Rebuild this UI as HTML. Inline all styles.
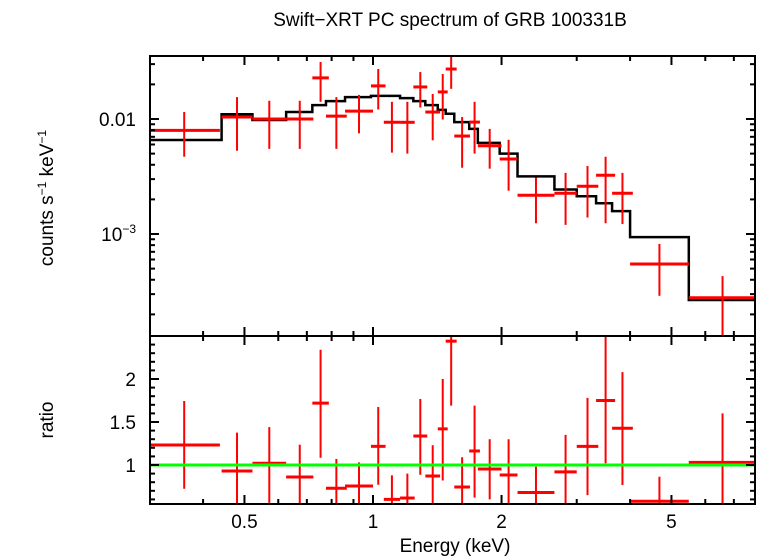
<!DOCTYPE html>
<html><head><meta charset="utf-8"><style>
html,body{margin:0;padding:0;background:#fff;}
svg{display:block;font-family:"Liberation Sans",sans-serif;}
</style></head><body>
<svg id="chart" width="758" height="556" viewBox="0 0 758 556" xmlns="http://www.w3.org/2000/svg">
<defs>
<clipPath id="ctop"><rect x="150" y="56" width="605" height="280"/></clipPath>
<clipPath id="cbot"><rect x="150" y="336" width="605" height="168"/></clipPath>
</defs>
<rect width="758" height="556" fill="#fff"/>
<text x="450" y="26" font-size="19" text-anchor="middle">Swift−XRT PC spectrum of GRB 100331B</text>
<g id="topMarks" clip-path="url(#ctop)"></g>
<g id="botMarks" clip-path="url(#cbot)"></g>
<g id="axes"></g>
<text transform="translate(53,198) rotate(-90)" font-size="19" text-anchor="middle">counts s<tspan font-size="12" dy="-7">−1</tspan><tspan dy="7"> keV</tspan><tspan font-size="12" dy="-7">−1</tspan></text>
<text transform="translate(53,420) rotate(-90)" font-size="19" text-anchor="middle">ratio</text>
<text x="455" y="552" font-size="19" text-anchor="middle">Energy (keV)</text>
</svg>
<script>
const eLo=[0.298,0.442,0.522,0.626,0.721,0.776,0.86,0.989,1.06,1.157,1.243,1.326,1.418,1.48,1.55,1.68,1.76,1.98,2.18,2.66,3.0,3.33,3.63,4.0,5.49];
const eHi=[0.438,0.522,0.626,0.725,0.788,0.868,1.0,1.07,1.157,1.252,1.34,1.436,1.496,1.57,1.687,1.78,2.0,2.18,2.66,3.0,3.37,3.69,4.06,5.49,7.9];
const rate=[0.00797,0.0104,0.0100,0.0100,0.0228,0.0106,0.0117,0.0194,0.00936,0.00936,0.019,0.0115,0.0172,0.0272,0.00711,0.0094,0.00586,0.00449,0.00217,0.00226,0.0026,0.00324,0.00226,0.000548,0.000279];
const rateHi=[0.0115,0.0155,0.0144,0.0144,0.0313,0.0155,0.0162,0.0272,0.0141,0.0141,0.0256,0.0165,0.0246,0.036,0.0104,0.0141,0.0082,0.0066,0.0031,0.0034,0.0039,0.0047,0.0034,0.00082,0.00043];
const rateLo=[0.0047,0.0053,0.0055,0.0055,0.0141,0.0055,0.0075,0.0121,0.0051,0.0050,0.0126,0.00653,0.0099,0.0183,0.00377,0.0050,0.0037,0.00238,0.00124,0.0012,0.00139,0.00124,0.00122,0.00029,0.0001];
const model=[0.00656,0.0110,0.0098,0.0115,0.0132,0.0143,0.0155,0.0159,0.0159,0.0152,0.0143,0.0132,0.0120,0.0111,0.0094,0.0082,0.0062,0.0050,0.00317,0.00244,0.00213,0.00185,0.00158,0.00094,0.000267];
const ratio=[1.233,0.93,1.02,0.86,1.72,0.73,0.756,1.217,0.6,0.616,1.337,0.872,1.42,2.44,0.744,1.163,0.953,0.884,0.68,0.92,1.217,1.75,1.427,0.578,1.03];
const ratioHi=[1.744,1.376,1.44,1.236,2.34,1.07,1.03,1.674,0.88,0.9,1.767,1.23,2.0,2.6,1.09,1.69,1.3,1.3,0.98,1.35,1.78,2.49,2.08,0.864,1.6];
const ratioLo=[0.724,0.5,0.56,0.5,1.085,0.5,0.5,0.77,0.5,0.5,0.887,0.5,0.82,1.69,0.5,0.62,0.6,0.5,0.5,0.5,0.65,1.02,0.767,0.5,0.5];
const xTicksMajor=[0.5,1,2,5];
const xTickLabels=["0.5","1","2","5"];
const ratioTicks=[1,1.5,2];
const ratioTickLabels=["1","1.5","2"];

const X=e=>373+427*Math.log10(e);
const YT=v=>119-115*(Math.log10(v)+2);
const YB=r=>465-86*(r-1);
const NS="http://www.w3.org/2000/svg";
function mk(parent,tag,attrs){const el=document.createElementNS(NS,tag);for(const k in attrs)el.setAttribute(k,attrs[k]);parent.appendChild(el);return el;}
const gTop=document.getElementById('topMarks'),gBot=document.getElementById('botMarks'),gAx=document.getElementById('axes');

let d="M"+X(eLo[0])+","+YT(model[0]);
for(let i=0;i<model.length;i++){
  const y=YT(model[i]);
  if(i>0)d+="V"+y;
  const xe=(i<model.length-1)?X(eLo[i+1]):X(eHi[i]);
  d+="H"+xe;
}
const mp=mk(gTop,'path',{d:d,fill:'none',stroke:'#000','stroke-width':2.5});



for(let i=0;i<rate.length;i++){
  const xm=X(Math.sqrt(eLo[i]*eHi[i]));
  const g=mk(gTop,'g',{stroke:'#f00'});
  
  
  mk(g,'line',{x1:X(eLo[i]),x2:X(eHi[i]),y1:YT(rate[i]),y2:YT(rate[i]),'stroke-width':3});
  mk(g,'line',{x1:xm,x2:xm,y1:YT(rateLo[i]),y2:YT(rateHi[i]),'stroke-width':2});
  const gb=mk(gBot,'g',{stroke:'#f00'});
  
  
  mk(gb,'line',{x1:X(eLo[i]),x2:X(eHi[i]),y1:YB(ratio[i]),y2:YB(ratio[i]),'stroke-width':3});
  mk(gb,'line',{x1:xm,x2:xm,y1:YB(ratioLo[i]),y2:YB(ratioHi[i]),'stroke-width':2});
}
const gl=mk(gBot,'line',{x1:150,x2:755,y1:YB(1),y2:YB(1),stroke:'#0f0','stroke-width':3});



const f1=mk(gAx,'rect',{x:150,y:56,width:605,height:280,fill:'none',stroke:'#000','stroke-width':2});


const f2=mk(gAx,'rect',{x:150,y:336,width:605,height:168,fill:'none',stroke:'#000','stroke-width':2});



function tick(x1,y1,x2,y2){mk(gAx,'line',{x1:x1,y1:y1,x2:x2,y2:y2,stroke:'#000','stroke-width':2});}
const xt=[0.3,0.4,0.5,0.6,0.7,0.8,0.9,1,2,3,4,5,6,7];
xt.forEach(ee=>{
  const x=X(ee); if(x<151||x>754)return;
  const maj=xTicksMajor.includes(ee); const L=maj?9:5;
  tick(x,56,x,56+L);tick(x,336,x,336-L);tick(x,336,x,336+L);tick(x,504,x,504-L);
});
xTicksMajor.forEach((e,i)=>{const t=mk(gAx,'text',{x:X(e),y:528,'font-size':19,'text-anchor':'middle'});t.textContent=xTickLabels[i];

});
for(let dec=-4;dec<=-2;dec++)for(let m=1;m<10;m++){const v=m*Math.pow(10,dec);const y=YT(v);if(y<57||y>335)continue;const L=m==1?9:5;tick(150,y,150+L,y);tick(755,y,755-L,y);}
const t1=mk(gAx,'text',{x:136,y:YT(0.01)+7,'font-size':19,'text-anchor':'end'});
t1.textContent="0.01";


const t3=mk(gAx,'text',{x:136,y:YT(0.001)+7,'font-size':19,'text-anchor':'end'});
t3.innerHTML='10<tspan font-size="12" dy="-8">−3</tspan>';


const rt=[0.6,0.7,0.8,0.9,1.0,1.1,1.2,1.3,1.4,1.5,1.6,1.7,1.8,1.9,2.0,2.1,2.2,2.3,2.4];
rt.forEach(rr=>{const y=YB(rr);const maj=Math.abs(rr*2-Math.round(rr*2))<1e-6;const L=maj?9:5;tick(150,y,150+L,y);tick(755,y,755-L,y);});
ratioTicks.forEach((r,i)=>{const t=mk(gAx,'text',{x:136,y:YB(r)+7,'font-size':19,'text-anchor':'end'});t.textContent=ratioTickLabels[i];

});
</script>
</body></html>
